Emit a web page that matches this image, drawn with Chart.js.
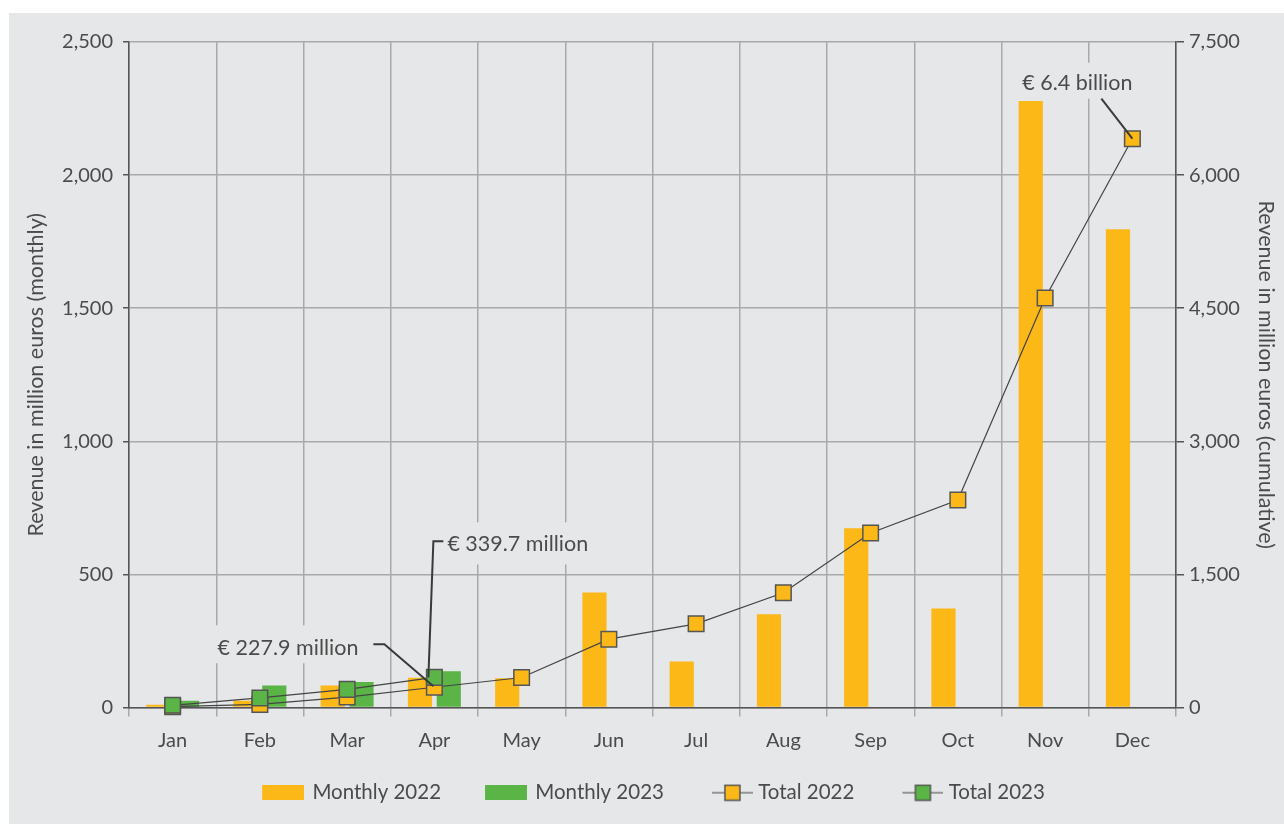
<!DOCTYPE html>
<html>
<head>
<meta charset="utf-8">
<script src="https://cdn.jsdelivr.net/npm/chart.js@4"></script>
<style>
  body { margin: 0; background: #fff; }
  .ChartWrapper { position: absolute; left: 9px; top: 13px; width: 1275px; height: 811px; background: #e6e7e9; }
</style>
</head>
<body>
<div class="ChartWrapper"><canvas id="RevenuePlot"></canvas></div>
<script>
const months = ['Jan', 'Feb', 'Mar', 'Apr', 'May', 'Jun', 'Jul', 'Aug', 'Sep', 'Oct', 'Nov', 'Dec']
const monthly2022 = [10, 25, 83, 112, 110, 432, 173, 350, 673, 372, 2278, 1797]
const monthly2023 = [25, 83, 96, 136, null, null, null, null, null, null, null, null]
const total2022 = [10, 35, 118, 227.9, 338, 770, 943, 1293, 1966, 2338, 4616, 6410]
const total2023 = [25, 108, 204, 339.7, null, null, null, null, null, null, null, null]
const leftTicks = [0, 500, 1000, 1500, 2000, 2500]
const rightTicks = [0, 1500, 3000, 4500, 6000, 7500]

const ORANGE = '#fbb817'
const GREEN = '#5ab446'
const TEXT = '#4b4b4b'
const GRID = '#a9a9a9'
const AXIS = '#555'
const FONT = 'Lato'

// callouts: text anchored to a point of a dataset, offsets in px
const callouts = [
    { text: '€ 227.9 million', ds: 2, idx: 3, tx: -76, ty: -39, align: 'right',
      box: [-232, -62, 184, 38], leader: [[-61, -43], [-50, -43], [-1, -1]] },
    { text: '€ 339.7 million', ds: 3, idx: 3, tx: 13, ty: -133, align: 'left',
      box: [3, -155, 166, 42], leader: [[9, -136], [-1, -136], [-6, 0]] },
    { text: '€ 6.4 billion', ds: 2, idx: 11, tx: -55, ty: -56, align: 'center',
      box: [-123, -76, 135, 36], leader: [[-31, -40], [0, 0]] },
]

// legend icons: drawn centred on item x + 27, text starts at x + 64
const barIcon = color => {
    const c = document.createElement('canvas')
    c.width = 58; c.height = 15
    const x = c.getContext('2d')
    x.fillStyle = color
    x.fillRect(16, 0, 42, 15)
    return c
}
const lineIcon = color => {
    const c = document.createElement('canvas')
    c.width = 64; c.height = 18
    const x = c.getContext('2d')
    x.strokeStyle = '#444'; x.lineWidth = 1.2
    x.beginPath(); x.moveTo(23, 9); x.lineTo(64, 9); x.stroke()
    x.fillStyle = color; x.fillRect(36, 1.5, 15, 15)
    x.strokeStyle = AXIS; x.lineWidth = 1.5
    x.strokeRect(36, 1.5, 15, 15)
    return c
}
const legendIcons = [barIcon(ORANGE), barIcon(GREEN), lineIcon(ORANGE), lineIcon(GREEN)]

const pointAt = (chart, c) => chart.getDatasetMeta(c.ds).data[c.idx]

const calloutPlugin = {
    id: 'callouts',
    beforeDatasetsDraw(chart) {
        const ctx = chart.ctx
        ctx.save()
        ctx.fillStyle = '#e6e7e9'
        callouts.forEach(c => {
            const p = pointAt(chart, c)
            ctx.fillRect(p.x + c.box[0], p.y + c.box[1], c.box[2], c.box[3])
        })
        ctx.font = '21.5px ' + FONT
        ctx.fillStyle = TEXT
        ctx.textBaseline = 'middle'
        callouts.forEach(c => {
            const p = pointAt(chart, c)
            ctx.textAlign = c.align
            ctx.fillText(c.text, p.x + c.tx, p.y + c.ty)
        })
        ctx.restore()
    },
    afterDatasetsDraw(chart) {
        const ctx = chart.ctx
        ctx.save()
        ctx.strokeStyle = '#3a3a3a'
        ctx.lineWidth = 2
        callouts.forEach(c => {
            const p = pointAt(chart, c)
            ctx.beginPath()
            c.leader.forEach(([dx, dy], i) => {
                if (i === 0) ctx.moveTo(p.x + dx, p.y + dy)
                else ctx.lineTo(p.x + dx, p.y + dy)
            })
            ctx.stroke()
        })
        ctx.restore()
    }
}

const fmt = v => v.toLocaleString('en-US')

new Chart(document.getElementById('RevenuePlot'), {
    type: 'bar',
    data: {
        labels: months,
        datasets: [{
            label: 'Monthly 2022',
            data: monthly2022,
            backgroundColor: ORANGE,
            yAxisID: 'y',
            order: 2,
            categoryPercentage: 0.66,
            barPercentage: 0.84,
        }, {
            label: 'Monthly 2023',
            data: monthly2023,
            backgroundColor: GREEN,
            yAxisID: 'y',
            order: 2,
            categoryPercentage: 0.66,
            barPercentage: 0.84,
        }, {
            type: 'line',
            label: 'Total 2022',
            data: total2022,
            yAxisID: 'y1',
            order: 1,
            borderColor: '#444',
            borderWidth: 1.2,
            pointStyle: 'rect',
            pointRadius: 11,
            pointBackgroundColor: ORANGE,
            pointBorderColor: AXIS,
            pointBorderWidth: 1.5,
            clip: false,
        }, {
            type: 'line',
            label: 'Total 2023',
            data: total2023,
            yAxisID: 'y1',
            order: 0,
            borderColor: '#444',
            borderWidth: 1.2,
            pointStyle: 'rect',
            pointRadius: 11,
            pointBackgroundColor: GREEN,
            pointBorderColor: AXIS,
            pointBorderWidth: 1.5,
            clip: false,
        }]
    },
    options: {
        responsive: true,
        maintainAspectRatio: false,
        animation: false,
        layout: { padding: { top: 29, left: 0, right: 0, bottom: 11 } },
        plugins: {
            tooltip: { enabled: false },
            legend: {
                position: 'bottom',
                labels: {
                    usePointStyle: true,
                    pointStyleWidth: 54,
                    padding: 30,
                    color: TEXT,
                    font: { family: FONT, size: 20.5 },
                    sort: (a, b) => a.datasetIndex - b.datasetIndex,
                    generateLabels: chart => chart.data.datasets.map((ds, i) => ({
                        text: ds.label,
                        pointStyle: legendIcons[i],
                        fillStyle: 'transparent',
                        strokeStyle: 'transparent',
                        lineWidth: 0,
                        fontColor: TEXT,
                        hidden: false,
                        datasetIndex: i,
                    })),
                },
            },
        },
        scales: {
            x: {
                offset: true,
                grid: { offset: true, color: GRID, lineWidth: 1.5, tickLength: 9, tickColor: GRID },
                border: { color: AXIS, width: 1.5 },
                ticks: { color: TEXT, padding: 12, font: { family: FONT, size: 20 } },
                afterFit: scale => { scale.height = 45 },
            },
            y: {
                position: 'left',
                min: 0, max: 2500,
                afterBuildTicks: scale => { scale.ticks = leftTicks.map(v => ({ value: v })) },
                grid: { color: GRID, lineWidth: 1.5, tickLength: 6, tickColor: AXIS },
                border: { color: AXIS, width: 1.5 },
                ticks: { color: TEXT, padding: 10, font: { family: FONT, size: 20 }, callback: fmt },
                title: { display: true, text: 'Revenue in million euros (monthly)', color: TEXT,
                         font: { family: FONT, size: 21.5 }, padding: { top: 14, bottom: 0 } },
                afterFit: scale => { scale.width = 120 },
            },
            y1: {
                position: 'right',
                min: 0, max: 7500,
                afterBuildTicks: scale => { scale.ticks = rightTicks.map(v => ({ value: v })) },
                grid: { drawOnChartArea: false, tickLength: 8, tickColor: AXIS, lineWidth: 1.5 },
                border: { color: AXIS, width: 1.5 },
                ticks: { color: TEXT, padding: 5, font: { family: FONT, size: 20 }, callback: fmt },
                title: { display: true, text: 'Revenue in million euros (cumulative)', color: TEXT,
                         font: { family: FONT, size: 21.5 }, padding: { top: 5, bottom: 0 } },
                afterFit: scale => { scale.width = 108 },
            },
        },
    },
    plugins: [calloutPlugin],
})
</script>
</body>
</html>
